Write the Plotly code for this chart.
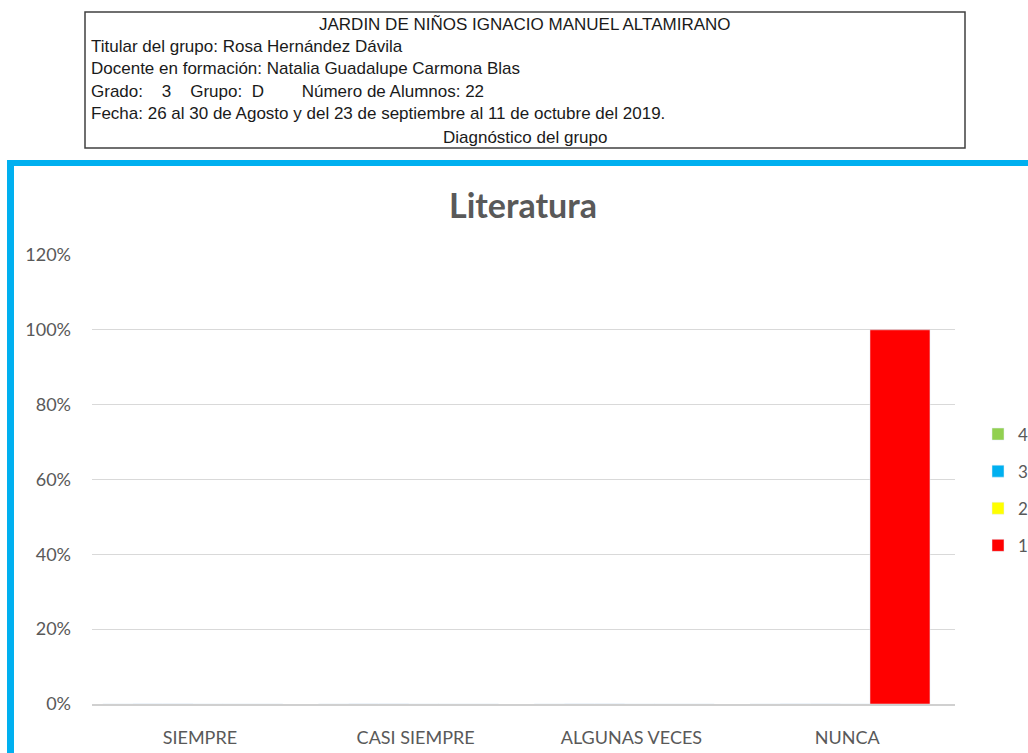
import plotly.graph_objects as go

# datos
categorias = ["SIEMPRE", "CASI SIEMPRE", "ALGUNAS VECES", "NUNCA"]
serie_1 = [0, 0, 0, 1.0]
serie_2 = [0, 0, 0, 0]
serie_3 = [0, 0, 0, 0]
serie_4 = [0, 0, 0, 0]
y_ticks = [0, 0.2, 0.4, 0.6, 0.8, 1.0, 1.2]
y_labels = ["0%", "20%", "40%", "60%", "80%", "100%", "120%"]

encabezado = [
    "Titular del grupo: Rosa Hernández Dávila",
    "Docente en formación: Natalia Guadalupe Carmona Blas",
    "Grado:    3    Grupo:  D        Número de Alumnos: 22",
    "Fecha: 26 al 30 de Agosto y del 23 de septiembre al 11 de octubre del 2019.",
]

W, H = 1028, 753
L, R, T, B = 92, 955, 255, 704


def px(x):
    return (x - L) / (R - L)


def py(y):
    return (B - y) / (B - T)


fig = go.Figure()

# se agregan de la 4 a la 1 para que la leyenda quede como en el original
series = [("4", serie_4, "#92D050", -0.45), ("3", serie_3, "#00B0F0", -0.31),
          ("2", serie_2, "#FFFF00", -0.17), ("1", serie_1, "#FF0000", 0.106)]
for name, vals, col, off in series:
    fig.add_trace(go.Bar(x=categorias, y=vals, name=name, marker_color=col,
                         offset=off, width=0.278, legendgroup=name))

fig.update_layout(
    width=W, height=H,
    margin=dict(l=L, r=W - R, t=T, b=H - B, autoexpand=False),
    barmode="overlay",
    paper_bgcolor="white", plot_bgcolor="white",
    font=dict(family="Lato", color="#595959", size=18),
    title=dict(text="<b>Literatura</b>", x=523 / W, xanchor="center",
               y=1 - 206 / H, yanchor="middle", yref="container",
               font=dict(size=34, color="#595959", family="Lato")),
    legend=dict(traceorder="grouped", x=px(978), xanchor="left", y=py(490),
                yanchor="middle", font=dict(size=17, color="#595959"), tracegroupgap=12,
                itemwidth=30, bgcolor="rgba(0,0,0,0)"),
    showlegend=True,
)

fig.update_xaxes(range=[-0.5, 3.5], showgrid=False, showline=True, linecolor="#d0d0d0",
                 linewidth=2, ticks="", ticklabelstandoff=16,
                 tickfont=dict(size=18, color="#595959"))
fig.update_yaxes(range=[0, 1.2], tickvals=y_ticks, ticktext=y_labels, showgrid=True,
                 gridcolor="#d9d9d9", gridwidth=1, zeroline=False, ticks="",
                 ticklabelstandoff=20, tickfont=dict(size=18, color="#595959"))

# recuadro del encabezado
cab_font = dict(family="Liberation Sans", size=17, color="#1a1a1a")
fig.add_shape(type="rect", xref="paper", yref="paper", x0=px(85), x1=px(965),
              y0=py(148), y1=py(12), line=dict(color="#404040", width=1.5))
fig.add_annotation(text="JARDIN DE NIÑOS IGNACIO MANUEL ALTAMIRANO", xref="paper", yref="paper",
                   x=px(525), y=py(24), xanchor="center", yanchor="middle", showarrow=False,
                   font=cab_font)
for i, linea in enumerate(encabezado):
    fig.add_annotation(text=linea, xref="paper", yref="paper", x=px(89), y=py(46 + 22.5 * i),
                       xanchor="left", yanchor="middle", showarrow=False, font=cab_font)
fig.add_annotation(text="Diagnóstico del grupo", xref="paper", yref="paper",
                   x=px(525), y=py(137), xanchor="center", yanchor="middle", showarrow=False,
                   font=cab_font)

# marco azul
fig.add_shape(type="rect", xref="paper", yref="paper", x0=px(7), x1=px(1028),
              y0=py(166), y1=py(160), fillcolor="#00B0F0", line_width=0, layer="below")
fig.add_shape(type="rect", xref="paper", yref="paper", x0=px(7), x1=px(14),
              y0=py(753), y1=py(160), fillcolor="#00B0F0", line_width=0, layer="below")

fig.write_html("out.html", config={"displayModeBar": False},
               post_script="document.body.style.margin='0';")
